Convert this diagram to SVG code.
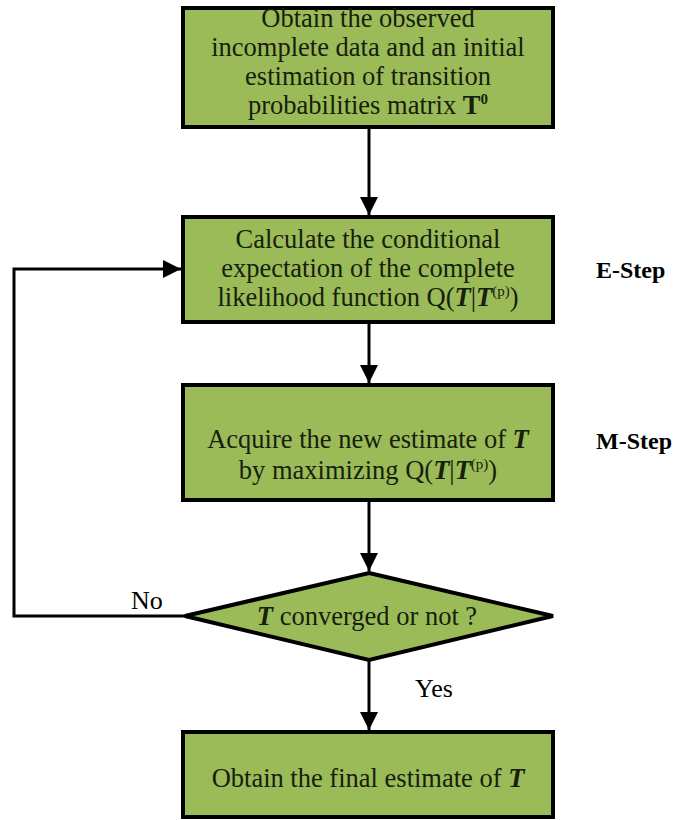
<svg xmlns="http://www.w3.org/2000/svg" width="679" height="820" viewBox="0 0 679 820">
  <defs>
    <style>
      .box { fill: #9bbb59; stroke: #000; stroke-width: 4; }
      .t { font-family: "Liberation Serif", "Times New Roman", serif; font-size: 26.5px; fill: #16200c; text-anchor: middle; }
      .lbl { font-family: "Liberation Serif", "Times New Roman", serif; font-size: 26px; fill: #000; }
      .step { font-family: "Liberation Serif", "Times New Roman", serif; font-size: 24px; font-weight: bold; fill: #000; }
      .bi { font-weight: bold; font-style: italic; }
      .sup { font-size: 15px; }
      .wire { fill: none; stroke: #000; stroke-width: 3; }
    </style>
    <marker id="arrow" viewBox="0 0 10 10" refX="10" refY="5" markerWidth="6" markerHeight="6" markerUnits="strokeWidth" orient="auto">
      <path d="M0,0 L10,5 L0,10 z" fill="#000"/>
    </marker>
  </defs>

  <rect width="679" height="820" fill="#fff"/>

  <!-- connectors -->
  <g id="connectors">
    <line class="wire" x1="369" y1="127" x2="369" y2="215" marker-end="url(#arrow)"/>
    <line class="wire" x1="369" y1="322" x2="369" y2="383" marker-end="url(#arrow)"/>
    <line class="wire" x1="369" y1="500" x2="369" y2="571" marker-end="url(#arrow)"/>
    <line class="wire" x1="369" y1="660" x2="369" y2="730" marker-end="url(#arrow)"/>
    <polyline class="wire" points="185,616 14,616 14,269 181,269" marker-end="url(#arrow)"/>
  </g>

  <!-- initialisation -->
  <g id="init">
    <rect class="box" x="183" y="8" width="370" height="119"/>
    <text class="t" x="368" y="27">Obtain the observed</text>
    <text class="t" x="368" y="56">incomplete data and an initial</text>
    <text class="t" x="368" y="85">estimation of transition</text>
    <text class="t" x="368" y="114">probabilities matrix <tspan font-weight="bold">T</tspan><tspan class="sup" font-weight="bold" dy="-10">0</tspan></text>
  </g>

  <!-- E-step -->
  <g id="estep">
    <rect class="box" x="183" y="217" width="370" height="105"/>
    <text class="t" x="368" y="248">Calculate the conditional</text>
    <text class="t" x="368" y="277">expectation of the complete</text>
    <text class="t" x="368" y="306">likelihood function Q(<tspan class="bi">T</tspan>|<tspan class="bi">T</tspan><tspan class="sup" dy="-10">(p)</tspan><tspan dy="10">)</tspan></text>
    <text class="step" x="596" y="278">E-Step</text>
  </g>

  <!-- M-step -->
  <g id="mstep">
    <rect class="box" x="183" y="385" width="370" height="115"/>
    <text class="t" x="368" y="448">Acquire the new estimate of <tspan class="bi">T</tspan></text>
    <text class="t" x="368" y="479">by maximizing Q(<tspan class="bi">T</tspan>|<tspan class="bi">T</tspan><tspan class="sup" dy="-10">(p)</tspan><tspan dy="10">)</tspan></text>
    <text class="step" x="596" y="449">M-Step</text>
  </g>

  <!-- convergence test -->
  <g id="check">
    <polygon class="box" points="369,573 553,616 369,660 185,616"/>
    <text class="t" x="367" y="625" font-size="25"><tspan class="bi">T</tspan> converged or not ?</text>
    <text class="lbl" x="131" y="609">No</text>
    <text class="lbl" x="415" y="697">Yes</text>
  </g>

  <!-- result -->
  <g id="final">
    <rect class="box" x="183" y="732" width="370" height="85"/>
    <text class="t" x="368" y="787">Obtain the final estimate of <tspan class="bi">T</tspan></text>
  </g>
</svg>
